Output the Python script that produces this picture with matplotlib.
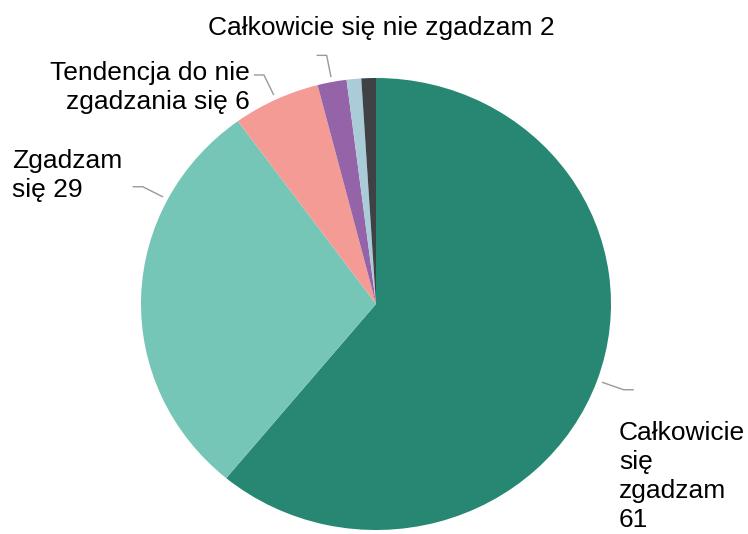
import matplotlib
matplotlib.use("Agg")
import matplotlib.pyplot as plt
import numpy as np

plt.rcParams['font.family'] = ['Liberation Sans', 'DejaVu Sans']

labels = ["Całkowicie\nsię\nzgadzam\n61", "Zgadzam\nsię 29", "Tendencja do nie\nzgadzania się 6",
          "Całkowicie się nie zgadzam 2", "", ""]
values = [61, 29, 6, 2, 1, 1]
colors = ["#288772", "#76C6B8", "#F59B95", "#9564A8", "#A9CCD8", "#3E4245"]

# label layout: (text x, text y, ha, leader angle or None for slice middle, elbow direction)
label_pos = [(1.034, -0.765, 'left', None, 1),
             (-1.549, 0.569, 'left', 152.4, -1),
             (-0.536, 0.958, 'right', None, -1),
             (0.021, 1.221, 'center', None, -1)]

fig = plt.figure(figsize=(7.48, 5.34), dpi=100)
ax = fig.add_axes([141 / 748, 4 / 534, 470 / 748, 452 / 534])
wedges, _ = ax.pie(values, colors=colors, startangle=90, counterclock=False,
                   wedgeprops=dict(linewidth=0))
ax.set_aspect('auto')
ax.set_xlim(-1, 1)
ax.set_ylim(-1, 1)
ax.axis('off')

for w, lab, pos in zip(wedges, labels, label_pos):
    tx, ty, ha, ang, side = pos
    if ang is None:
        ang = (w.theta1 + w.theta2) / 2
    a = np.deg2rad(ang)
    x0, y0 = 1.025 * np.cos(a), 1.025 * np.sin(a)
    x1, y1 = 1.12 * np.cos(a), 1.12 * np.sin(a)
    x2 = x1 + side * 0.04
    ax.plot([x0, x1, x2], [y0, y1, y1], color="#9a9a9a", lw=1, clip_on=False)
    ax.text(tx, ty, lab, ha=ha, va='center', multialignment=ha, fontsize=19,
            linespacing=1.26, color="black", clip_on=False)

fig.savefig("out.png", dpi=100)
